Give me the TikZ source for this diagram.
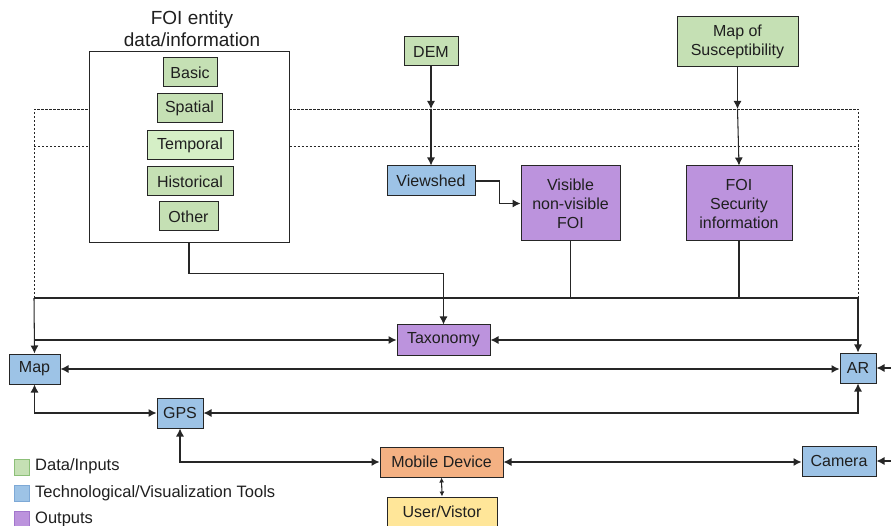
\documentclass[tikz,border=0pt]{standalone}
\usepackage{fontspec}
\setmainfont{Liberation Sans}
\usetikzlibrary{arrows.meta}
\definecolor{cgreen}{HTML}{C5E0B4}
\definecolor{cgreenl}{HTML}{D5EFC6}
\definecolor{cblue}{HTML}{9DC3E6}
\definecolor{cpurple}{HTML}{BC93DD}
\definecolor{corange}{HTML}{F4B183}
\definecolor{cyellow}{HTML}{FFE699}
\definecolor{cline}{HTML}{262626}
\definecolor{lgreenb}{HTML}{8CBF78}
\definecolor{lblueb}{HTML}{7EA9D6}
\definecolor{lpurpleb}{HTML}{A276CC}
\tikzset{
  bx/.style={draw=cline, line width=1pt, inner sep=0pt, align=center,
    font=\fontsize{16}{19}\selectfont, text=black!88},
  wire/.style={draw=cline, line width=1.05pt},
  arr/.style={wire, -{Latex[length=8pt,width=8pt]}},
  darr/.style={wire, {Latex[length=8pt,width=8pt]}-{Latex[length=8pt,width=8pt]}},
  sarr/.style={wire, {Latex[length=5pt,width=5pt]}-{Latex[length=5pt,width=5pt]}},
  dots/.style={draw=cline, line width=0.9pt, dash pattern=on 2pt off 2pt},
  leg/.style={minimum width=15pt, minimum height=16pt, inner sep=0pt, line width=0.8pt},
  legtxt/.style={anchor=west, inner sep=0pt, font=\fontsize{16.5}{19}\selectfont, text=black!88}
}
\begin{document}
\begin{tikzpicture}[x=1pt,y=-1pt]
\useasboundingbox (0,0) rectangle (891,526);
% coordinates for dotted frame and bus lines
\coordinate (d1l) at (34,109);
\coordinate (d1r) at (858,109);
\coordinate (d2l) at (34,146);
\coordinate (d2r) at (858,146);
\coordinate (bl) at (34,298);
\coordinate (br) at (858,298);
\coordinate (tl) at (34,340);
\coordinate (tr) at (858,340);
\coordinate (edgeA) at (891,368);
\coordinate (edgeC) at (891,461);
% dotted frame
\draw[dots] (bl) -- (d1l) -- (d1r) -- (br);
\draw[dots] (d2l) -- (d2r);
% FOI group
\node[font=\fontsize{19}{22}\selectfont, align=center, text=black!88] (title) at (192,29) {FOI entity\\data/information};
\node[draw=cline, line width=1pt, fill=white, minimum width=200pt, minimum height=191pt, inner sep=0pt] (foibox) at (189,147.5) {};
\node[bx, fill=cgreen, minimum width=54pt, minimum height=29pt] (basic) at (190,72.5) {Basic};
% redraw dotted lines outside the box only
\draw[dots] (d1l) -- (foibox.west |- d1l);
\draw[dots] (d2l) -- (foibox.west |- d2l);
\draw[dots] (foibox.east |- d1l) -- (d1r);
\draw[dots] (foibox.east |- d2l) -- (d2r);
\node[bx, fill=cgreen, minimum width=65pt, minimum height=29pt] (spatial) at (189.5,108.5) {Spatial};
\node[bx, fill=cgreenl, minimum width=86pt, minimum height=29pt] (temporal) at (190,145.5) {Temporal};
\node[bx, fill=cgreen, minimum width=86pt, minimum height=29pt] (historical) at (190,181.5) {Historical};
\node[bx, fill=cgreen, minimum width=59pt, minimum height=29pt] (other) at (188.5,216.5) {Other};
% other nodes
\node[bx, fill=cgreen, minimum width=54pt, minimum height=29pt] (dem) at (431,51.5) {DEM};
\node[bx, fill=cgreen, minimum width=121pt, minimum height=50pt] (mapsus) at (737.5,42) {Map of\\Susceptibility};
\node[bx, fill=cblue, minimum width=88pt, minimum height=30pt] (viewshed) at (431,181) {Viewshed};
\node[bx, fill=cpurple, minimum width=99pt, minimum height=75pt] (visible) at (570.5,203.5) {Visible\\non-visible\\FOI};
\node[bx, fill=cpurple, minimum width=106pt, minimum height=75pt] (foisec) at (739,203.5) {FOI\\Security\\information};
\node[bx, fill=cpurple, minimum width=93pt, minimum height=30pt] (taxonomy) at (443.5,340) {Taxonomy};
\node[bx, fill=cblue, minimum width=51pt, minimum height=30pt] (map) at (34.5,369) {Map};
\node[bx, fill=cblue, minimum width=36pt, minimum height=30pt] (ar) at (858,368) {AR};
\node[bx, fill=cblue, minimum width=46pt, minimum height=30pt] (gps) at (180,413) {GPS};
\node[bx, fill=corange, minimum width=123pt, minimum height=30pt] (mobile) at (441.5,462) {Mobile Device};
\node[bx, fill=cblue, minimum width=74pt, minimum height=30pt] (camera) at (839,461) {Camera};
\node[bx, fill=cyellow, minimum width=110pt, minimum height=29pt] (user) at (442,511.5) {User/Vistor};
% connectors
\coordinate (demx) at (dem.south |- d1l);
\draw[arr] (dem.south) -- (demx);
\draw[arr] (demx) -- (viewshed.north);
\coordinate (susx) at (mapsus.south |- d1l);
\draw[arr] (mapsus.south) -- (susx);
\draw[arr] (susx) -- (foisec.north);
\draw[arr] (viewshed.east) -- ++(24,0) |- (visible.west);
\draw[arr] (foibox.south) -- ++(0,30) -| (taxonomy.north);
\draw[wire] (visible.south) -- (visible.south |- bl);
\draw[wire] (foisec.south) -- (foisec.south |- bl);
\draw[wire] (bl) -- (br);
\draw[arr] (bl) -- (map.north);
\draw[arr] (br) -- (ar.north);
\draw[arr] (tl) -- (taxonomy.west);
\draw[arr] (tr) -- (taxonomy.east);
\draw[darr] (map.east) -- (ar.west |- map.east);
\draw[darr] (map.south) |- (gps.west);
\draw[darr] (gps.east) -| (ar.south);
\draw[darr] (gps.south) |- (mobile.west);
\draw[darr] (mobile.east) -- (camera.west |- mobile.east);
\draw[sarr] (mobile.south) -- (user.north);
\draw[arr] (edgeA) -- (ar.east);
\draw[arr] (edgeC) -- (camera.east);
% legend
\node[leg, fill=cgreen, draw=lgreenb] (lg1) at (21.5,467) {};
\node[leg, fill=cblue, draw=lblueb] (lg2) at (21.5,493) {};
\node[leg, fill=cpurple, draw=lpurpleb] (lg3) at (21.5,519) {};
\node[legtxt] (lt1) at (35,466) {Data/Inputs};
\node[legtxt] (lt2) at (35,493) {Technological/Visualization Tools};
\node[legtxt] (lt3) at (35,519) {Outputs};
\end{tikzpicture}
\end{document}
